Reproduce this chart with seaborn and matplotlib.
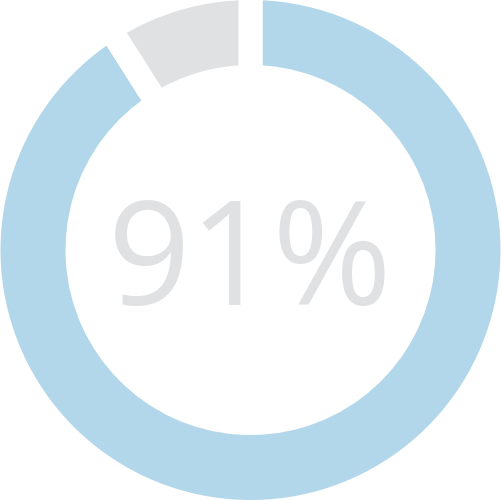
import matplotlib
matplotlib.use("Agg")
import matplotlib.pyplot as plt
import seaborn as sns

# donut data
labels = ["Complete", "Remaining"]
values = [91, 9]
colors = ["#b2d7ea", "#e0e1e3"]
center_label = "91%"

sns.set_style("white")
plt.rcParams['font.family'] = ['Open Sans', 'DejaVu Sans']

fig = plt.figure(figsize=(5.01, 5.0), dpi=100)
ax = fig.add_axes([0, 0, 1, 1])

# gap of ~24px between slices; edges eat half of it on each side
gap_px = 24
lw = gap_px * 72 / 100
ax.pie(values, colors=colors, startangle=90, counterclock=False,
       radius=1.048, wedgeprops=dict(width=0.356, edgecolor="white", linewidth=lw))

ax.text(0, -0.22, center_label, ha="center", va="baseline", fontsize=104,
        color="#e0e1e3")

ax.set_xlim(-1, 1)
ax.set_ylim(-1, 1)
ax.set_aspect("equal")
ax.axis("off")

fig.savefig("out.png", dpi=100, facecolor="white")
